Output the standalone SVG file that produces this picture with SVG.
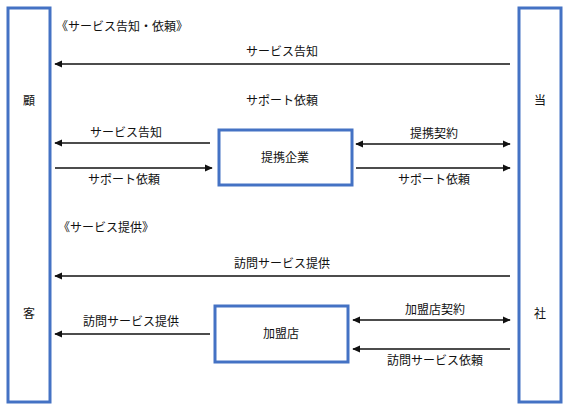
<svg xmlns="http://www.w3.org/2000/svg" width="568" height="409" viewBox="0 0 568 409">
<style>
.box{fill:#fff;stroke:#4472C4;stroke-width:3}
.t{font-family:"Noto Sans CJK JP","Noto Sans",sans-serif;font-size:12px;fill:#111}
.m{text-anchor:middle}
.ln{stroke:#111;stroke-width:1.5;fill:none}
</style>
<defs>
<marker id="ah" viewBox="0 0 10 10" refX="9" refY="5" markerWidth="8" markerHeight="8" markerUnits="userSpaceOnUse" orient="auto-start-reverse"><path d="M0,0.5 L10,5 L0,9.5 z" fill="#111"/></marker>
</defs>
<g id="customer"><rect class="box" x="8" y="8" width="42" height="394"/><text class="t m" x="29" y="105">顧</text><text class="t m" x="29" y="318">客</text></g>
<g id="company"><rect class="box" x="519" y="8" width="42" height="394"/><text class="t m" x="540" y="105">当</text><text class="t m" x="540" y="318">社</text></g>
<g id="partner"><rect class="box" x="219" y="130" width="133" height="55"/><text class="t m" x="285" y="162">提携企業</text></g>
<g id="franchise"><rect class="box" x="215" y="306" width="133" height="56"/><text class="t m" x="281" y="338">加盟店</text></g>
<g id="labels">
<text class="t" x="56" y="31">《サービス告知・依頼》</text>
<text class="t" x="58" y="232">《サービス提供》</text>
</g>
<g id="connectors">
<line class="ln" x1="510" y1="64" x2="55" y2="64" marker-end="url(#ah)"/>
<text class="t m" x="282" y="56">サービス告知</text>
<text class="t m" x="282" y="105">サポート依頼</text>
<line class="ln" x1="210" y1="143" x2="55" y2="143" marker-end="url(#ah)"/>
<text class="t m" x="126" y="137">サービス告知</text>
<line class="ln" x1="55" y1="168" x2="212" y2="168" marker-end="url(#ah)"/>
<text class="t m" x="124" y="184">サポート依頼</text>
<line class="ln" x1="356" y1="144" x2="510" y2="144" marker-start="url(#ah)" marker-end="url(#ah)"/>
<text class="t m" x="434" y="138">提携契約</text>
<line class="ln" x1="356" y1="168" x2="510" y2="168" marker-end="url(#ah)"/>
<text class="t m" x="434" y="184">サポート依頼</text>
<line class="ln" x1="510" y1="276" x2="55" y2="276" marker-end="url(#ah)"/>
<text class="t m" x="282" y="268">訪問サービス提供</text>
<line class="ln" x1="210" y1="334" x2="55" y2="334" marker-end="url(#ah)"/>
<text class="t m" x="131" y="326">訪問サービス提供</text>
<line class="ln" x1="353" y1="320" x2="510" y2="320" marker-start="url(#ah)" marker-end="url(#ah)"/>
<text class="t m" x="435" y="314">加盟店契約</text>
<line class="ln" x1="510" y1="349" x2="353" y2="349" marker-end="url(#ah)"/>
<text class="t m" x="435" y="365">訪問サービス依頼</text>
</g>
</svg>
